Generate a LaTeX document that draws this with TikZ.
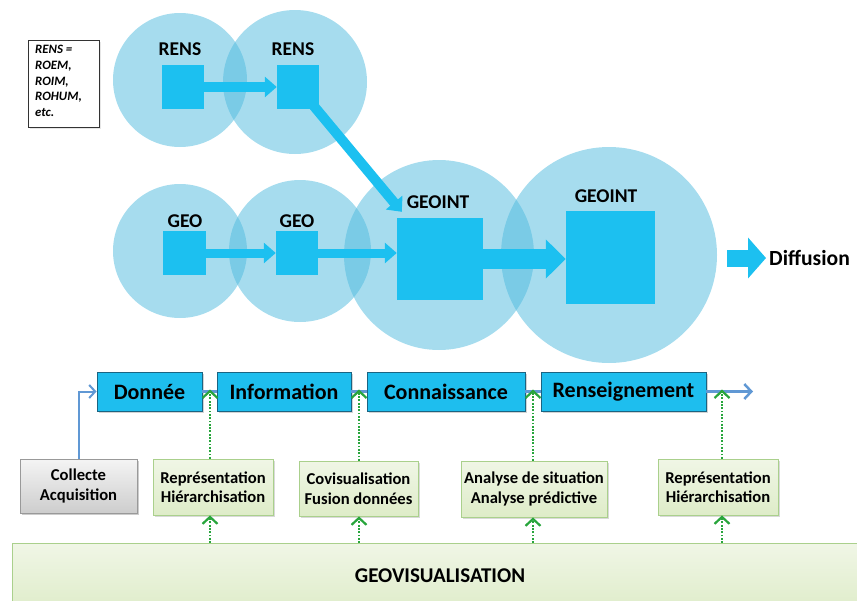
\documentclass[tikz,border=0pt]{standalone}
\usepackage{fontspec}
\setmainfont{Carlito}
\usetikzlibrary{arrows.meta,shadows,calc}
\definecolor{circfill}{RGB}{78,186,222}
\definecolor{sqcyan}{RGB}{28,192,240}
\definecolor{boxcyan}{RGB}{30,190,238}
\definecolor{boxedge}{RGB}{26,100,130}
\definecolor{linkblue}{RGB}{96,152,212}
\definecolor{dotgreen}{RGB}{40,165,60}
\definecolor{greenedge}{RGB}{170,208,140}
\definecolor{greentop}{RGB}{240,246,230}
\definecolor{greenbot}{RGB}{222,236,200}
\definecolor{graytop}{RGB}{244,244,244}
\definecolor{graybot}{RGB}{205,205,205}
\tikzset{
  bubble/.style={circle,fill=circfill,fill opacity=0.5,draw=none,inner sep=0pt},
  sq/.style={rectangle,fill=sqcyan,draw=none,inner sep=0pt},
  lbl/.style={font=\fontsize{19.5}{21}\selectfont\bfseries,inner sep=0pt},
  blockarrow/.style={draw=sqcyan,line width=#1},
  stagebox/.style={rectangle,draw=boxedge,line width=0.9pt,fill=boxcyan,minimum height=39pt,inner sep=0pt,
     font=\fontsize{22}{24}\selectfont\bfseries,drop shadow={shadow xshift=1.5pt,shadow yshift=-1.5pt,opacity=0.35}},
  toolbox/.style={rectangle,draw=greenedge,line width=0.8pt,top color=greentop,bottom color=greenbot,inner sep=0pt,
     align=center,font=\fontsize{16.6}{19.5}\selectfont\bfseries,drop shadow={shadow xshift=1.5pt,shadow yshift=-1.5pt,opacity=0.3}},
  graybox/.style={rectangle,draw=gray!80,line width=0.8pt,top color=graytop,bottom color=graybot,inner sep=0pt,
     align=center,font=\fontsize{16.6}{19.5}\selectfont\bfseries,drop shadow={shadow xshift=2pt,shadow yshift=-2pt,opacity=0.4}},
  link/.style={draw=linkblue,line width=2.5pt},
  dotarrow/.style={draw=dotgreen,line width=2pt,dash pattern=on 1.8pt off 1.5pt,
     -{Straight Barb[length=7pt,width=15pt,line width=2.2pt]}},
}
\begin{document}
\begin{tikzpicture}[x=1pt,y=-1pt]
\useasboundingbox (0,0) rectangle (857,600);

% bubbles
\node[bubble,minimum size=134pt] (c1) at (180,80) {};
\node[bubble,minimum size=144pt] (c2) at (295,82) {};
\node[bubble,minimum size=134pt] (c3) at (180,251) {};
\node[bubble,minimum size=142pt] (c4) at (300,251) {};
\node[bubble,minimum size=190pt] (c5) at (439,255) {};
\node[bubble,minimum size=216pt] (c6) at (609,255) {};

% squares
\node[sq,minimum width=42pt,minimum height=44pt] (r1) at (183,87) {};
\node[sq,minimum width=42pt,minimum height=44pt] (r2) at (298,87) {};
\node[sq,minimum width=43pt,minimum height=44pt] (g1) at (184.5,253) {};
\node[sq,minimum width=42pt,minimum height=44pt] (g2) at (297,253) {};
\node[sq,minimum width=86pt,minimum height=82pt] (gi1) at (440,259) {};
\node[sq,minimum width=89pt,minimum height=93pt] (gi2) at (610.5,257.5) {};

% labels
\node[lbl] (lr1) at (180,49) {RENS};
\node[lbl] (lr2) at (293,49) {RENS};
\node[lbl] (lg1) at (185,221) {GEO};
\node[lbl] (lg2) at (297,221) {GEO};
\node[lbl] (lgi1) at (438,202) {GEOINT};
\node[lbl] (lgi2) at (606,196) {GEOINT};

% block arrows
\draw[blockarrow=10pt,-{Triangle[width=20pt,length=12pt]}] (r1.east) -- (r2.west);
\draw[blockarrow=10pt,-{Triangle[width=21pt,length=12pt]}] (r2.center) -- ([shift={(5,-6)}]gi1.north west);
\draw[blockarrow=9pt,-{Triangle[width=20pt,length=12pt]}] (g1.east) -- (g2.west);
\draw[blockarrow=9pt,-{Triangle[width=20pt,length=12pt]}] (g2.east) -- (gi1.west |- g2.east);
\draw[blockarrow=20pt,-{Triangle[width=38pt,length=20pt]}] (gi1.east) -- (gi2.west |- gi1.east);
\coordinate (dstart) at (727,258);
\node[font=\fontsize{21.6}{23}\selectfont\bfseries,anchor=west,inner sep=0pt] (diff) at (769,258) {Diffusion};
\draw[blockarrow=17pt,-{Triangle[width=40pt,length=18pt]}] (dstart) -- ([xshift=-3pt]diff.west);

% legend
\node[draw=black!80,line width=1.2pt,anchor=north west,inner sep=0pt,minimum width=71pt,minimum height=87pt,
  drop shadow={shadow xshift=1pt,shadow yshift=-1pt,opacity=0.2},fill=white] (leg) at (28,40) {};
\node[anchor=north west,align=left,inner sep=0pt,font=\fontsize{12.8}{15.8}\selectfont\bfseries\itshape] (legt) at (35,45)
  {RENS =\\ROEM,\\ROIM,\\ROHUM,\\etc.};

% geovisualisation band
\node[rectangle,draw=greenedge,line width=1pt,top color=greentop,bottom color=greenbot,anchor=north west,
  minimum width=860pt,minimum height=70pt,inner sep=0pt] (geov) at (12,543) {};
\node[font=\fontsize{21}{23}\selectfont\bfseries,inner sep=0pt] (geovt) at (440,576) {GEOVISUALISATION};

% stage boxes
\node[stagebox,minimum width=105pt] (don) at (149.5,391.5) {Donnée};
\node[stagebox,minimum width=134pt] (inf) at (284,391.5) {Information};
\node[stagebox,minimum width=158pt] (con) at (446,391.5) {Connaissance};
\node[stagebox,minimum width=165pt] (ren) at (623.5,391.5) {Renseignement};
\coordinate (rend) at (753,391.5);

\draw[link] (don.east) -- (inf.west);
\draw[link] (inf.east) -- (con.west);
\draw[link] (con.east) -- (ren.west);
\draw[link,-{Straight Barb[length=7pt,width=15pt,line width=2.5pt]}] (ren.east) -- (rend);

% tool boxes
\node[graybox,minimum width=117pt,minimum height=54pt] (col) at (78.5,486) {Collecte\\Acquisition};
\node[toolbox,minimum width=120pt,minimum height=56pt] (rep1) at (213,487) {Représentation\\Hiérarchisation};
\node[toolbox,minimum width=119pt,minimum height=55pt] (cov) at (358.5,488.5) {Covisualisation\\Fusion données};
\node[toolbox,minimum width=146pt,minimum height=56pt] (ana) at (534,489) {Analyse de situation\\Analyse prédictive};
\node[toolbox,minimum width=120pt,minimum height=56pt] (rep2) at (718,487) {Représentation\\Hiérarchisation};

\draw[link,line width=2pt,-{Straight Barb[length=6pt,width=13pt,line width=2pt]}] (col.north) |- (don.west);

% dotted arrows
\coordinate (x1) at (210,0);
\coordinate (x2) at (359,0);
\coordinate (x3) at (533,0);
\coordinate (x4) at (722,0);
\draw[dotarrow] (geov.north -| x1) -- (rep1.south -| x1);
\draw[dotarrow] (geov.north -| x2) -- (cov.south -| x2);
\draw[dotarrow] (geov.north -| x3) -- (ana.south -| x3);
\draw[dotarrow] (geov.north -| x4) -- (rep2.south -| x4);
\draw[dotarrow] (rep1.north -| x1) -- ([yshift=2pt]don.east -| x1);
\draw[dotarrow] (cov.north -| x2) -- ([yshift=2pt]inf.east -| x2);
\draw[dotarrow] (ana.north -| x3) -- ([yshift=2pt]con.east -| x3);
\draw[dotarrow] (rep2.north -| x4) -- ([yshift=2pt]ren.east -| x4);
\end{tikzpicture}
\end{document}
